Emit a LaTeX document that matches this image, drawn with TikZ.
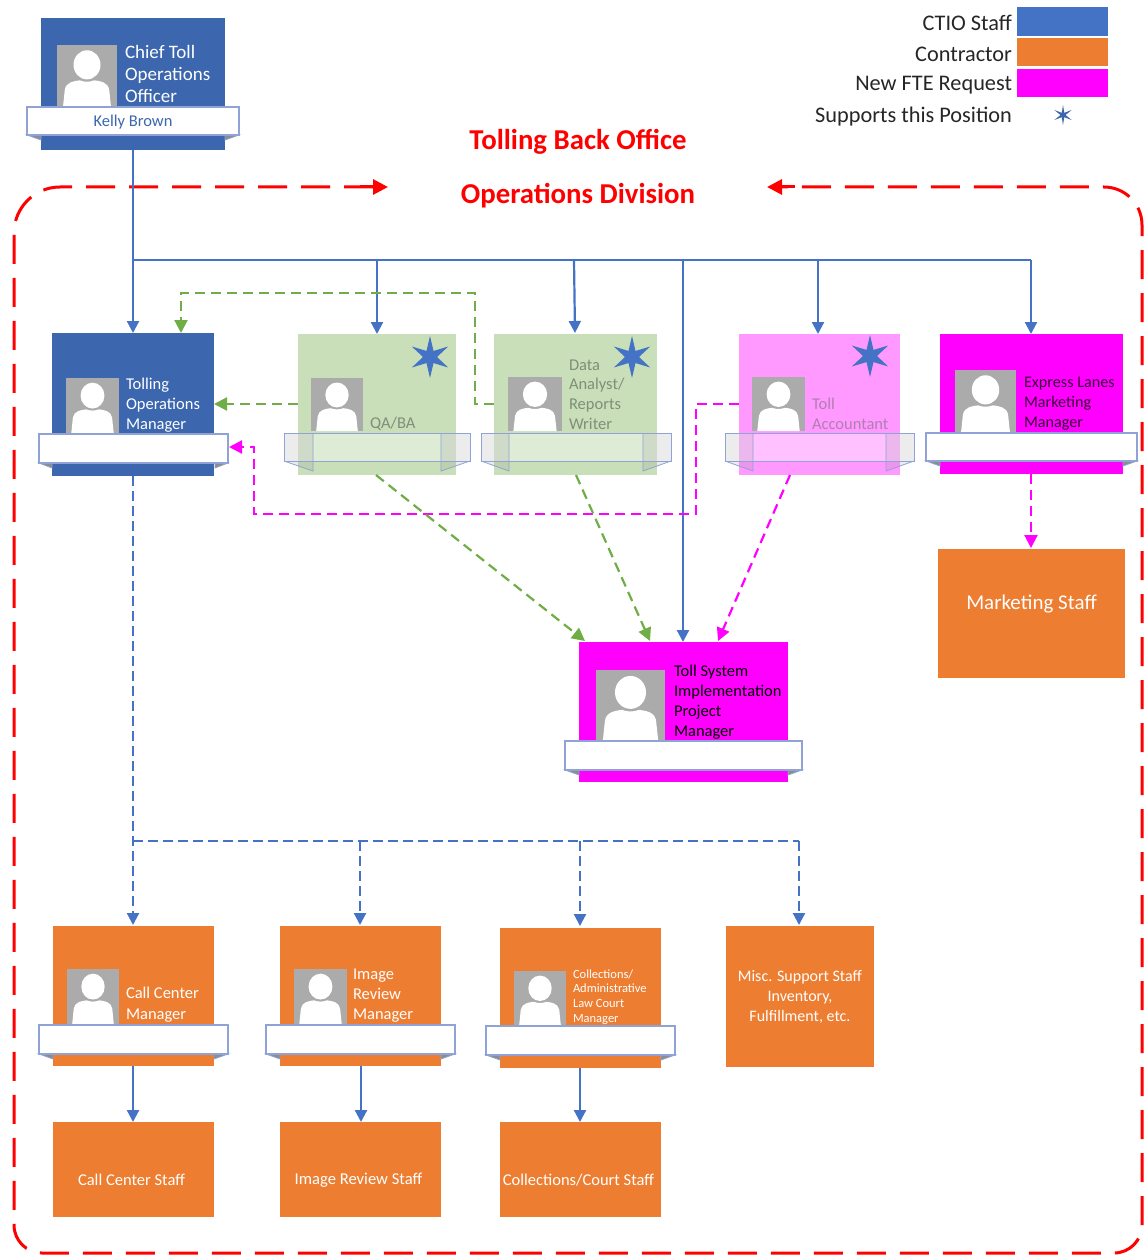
\documentclass[tikz,border=0pt]{standalone}
\usepackage{fontspec}
\setmainfont{Carlito}
\usetikzlibrary{arrows.meta,shapes.geometric,calc}
\definecolor{ctio}{HTML}{3C66AE}
\definecolor{linkblue}{HTML}{4472C4}
\definecolor{contr}{HTML}{ED7D31}
\definecolor{fte}{HTML}{FF00FF}
\definecolor{ltfte}{HTML}{FF99FF}
\definecolor{ltgreen}{HTML}{C9DFB9}
\definecolor{linkgreen}{HTML}{70AD47}
\definecolor{photo}{HTML}{ABABAB}
\definecolor{bannerline}{HTML}{8FA3D6}
\definecolor{greytext}{HTML}{7F8F78}
\definecolor{pinkgrey}{HTML}{B07FB0}
\definecolor{darkpurple}{HTML}{3A003A}
\tikzset{
  x=1pt,y=-1pt,
  box/.style={inner sep=0pt,outer sep=0pt,draw=none},
  lbl/.style 2 args={inner sep=0pt,outer sep=0pt,anchor=west,align=left,font=\fontsize{#1}{#2}\selectfont},
  ctr/.style 2 args={inner sep=0pt,outer sep=0pt,anchor=center,align=center,text=white,font=\fontsize{#1}{#2}\selectfont},
  solidlink/.style={linkblue,line width=2.2pt,-{Triangle[width=12pt,length=12pt]}},
  bluedash/.style={solidlink,dash pattern=on 10pt off 5pt},
  greendash/.style={linkgreen,line width=2.2pt,dash pattern=on 10pt off 6pt,-{Triangle[width=13pt,length=13pt]}},
  pinkdash/.style={fte,line width=2.2pt,dash pattern=on 10pt off 6pt,-{Triangle[width=13pt,length=13pt]}},
  framelink/.style={red,line width=3pt,dash pattern=on 29pt off 14pt},
  redtip/.style={red,line width=3pt,-{Triangle[width=15pt,length=15pt]}},
  starmark/.style={star,star points=6,star point ratio=3,fill=linkblue,inner sep=0pt,outer sep=0pt,minimum size=42pt},
  title/.style={inner sep=0pt,text=red,font=\fontsize{28.8}{30}\selectfont\bfseries},
}
% \rectn{name}{x0}{y0}{x1}{y1}{colour}
\newcommand{\rectn}[6]{%
  \pgfmathsetmacro{\cxx}{(#2+#4)/2}\pgfmathsetmacro{\cyy}{(#3+#5)/2}%
  \pgfmathsetmacro{\www}{#4-#2}\pgfmathsetmacro{\hhh}{#5-#3}%
  \node[box,fill=#6,minimum width=\www pt,minimum height=\hhh pt] (#1) at (\cxx,\cyy) {};}
% \portrait{name}{x0}{y0}{x1}{y1}
\newcommand{\portrait}[5]{%
  \rectn{#1}{#2}{#3}{#4}{#5}{photo}%
  \pgfmathsetmacro{\pw}{#4-#2}\pgfmathsetmacro{\ph}{#5-#3}%
  \begin{scope}[shift={(#2,#3)},x=\pw pt,y=-\ph pt]
    \fill[white] (0.5,0.32) ellipse (0.225 and 0.235);
    \fill[white] (0.10,1) -- (0.13,0.72) .. controls (0.15,0.6) and (0.28,0.58) .. (0.38,0.57)
      .. controls (0.45,0.6) and (0.55,0.6) .. (0.62,0.57)
      .. controls (0.72,0.58) and (0.85,0.6) .. (0.87,0.72) -- (0.90,1) -- cycle;
  \end{scope}}
% \banner{x0}{y0}{x1}{y1}{inner inset}{fold depth}
\newcommand{\banner}[6]{%
  \draw[bannerline,line width=.8pt,fill=black!45] (#1,#4) -- ({#1+#5},{#4+#6}) -- ({#1+#5},#4) -- cycle;
  \draw[bannerline,line width=.8pt,fill=black!45] (#3,#4) -- ({#3-#5},{#4+#6}) -- ({#3-#5},#4) -- cycle;
  \draw[bannerline,line width=1.2pt,fill=white] (#1,#2) rectangle (#3,#4);}
% see-through banner
\newcommand{\glass}[6]{%
  \fill[white,opacity=.4] (#1,#2) rectangle (#3,#4);
  \fill[gray,opacity=.15] (#1,#4) -- ({#1+#5},{#4+#6}) -- ({#1+#5},#2) -- (#1,#2) -- cycle;
  \fill[gray,opacity=.15] (#3,#4) -- ({#3-#5},{#4+#6}) -- ({#3-#5},#2) -- (#3,#2) -- cycle;
  \draw[bannerline,line width=1pt] (#1,#2) rectangle (#3,#4);
  \draw[bannerline,line width=.8pt] (#1,#4) -- ({#1+#5},{#4+#6}) -- ({#1+#5},#2);
  \draw[bannerline,line width=.8pt] (#3,#4) -- ({#3-#5},{#4+#6}) -- ({#3-#5},#2);}
\begin{document}
\begin{tikzpicture}
\useasboundingbox (0,0) rectangle (1145,1257);
\fill[white] (0,0) rectangle (1145,1257);

% frame
\coordinate (frameL) at (388,187);
\coordinate (frameR) at (767,187);
\draw[framelink] (frameL) ++(-15,0) -- (60,187) arc[start angle=90,end angle=180,x radius=46,y radius=-46]
  -- (14,1225) arc[start angle=180,end angle=270,x radius=28,y radius=-28]
  -- (1114,1253) arc[start angle=270,end angle=360,x radius=28,y radius=-28]
  -- (1142,225) arc[start angle=0,end angle=90,x radius=38,y radius=-38] -- ($(frameR)+(15,0)$);
\draw[redtip] (360,187) -- (frameL);
\draw[redtip] (795,187) -- (frameR);

% titles
\node[title] (title1) at (578,142) {Tolling Back Office};
\node[title] (title2) at (578,196) {Operations Division};

% legend
\rectn{legA}{1017}{7}{1108}{36}{linkblue}
\rectn{legB}{1017}{38}{1108}{66}{contr}
\rectn{legC}{1017}{69}{1108}{97}{fte}
\node[star,star points=6,star point ratio=4,fill=ctio,inner sep=0pt,minimum size=20pt] (legD) at (1063,115) {};
\foreach \nm/\yy/\tx in {la/23/CTIO Staff,lb/54/Contractor,lc/85.5/New FTE Request,ld/116.5/Supports this Position}
  \node[lbl={22.3}{24},anchor=east,text=black!85] (\nm) at (1012,\yy) {\tx};

% solid-colour cards
\rectn{chief}{41}{18}{225}{150}{ctio}
\rectn{tom}{52}{333}{214}{476}{ctio}
\rectn{qa}{298}{334}{456}{475}{ltgreen}
\rectn{data}{494}{334}{657}{475}{ltgreen}
\rectn{acct}{739}{334}{900}{475}{ltfte}
\rectn{expr}{940}{334}{1123}{474}{fte}
\rectn{mkt}{938}{549}{1125}{678}{contr}
\rectn{tsi}{579}{642}{788}{782}{fte}
\rectn{ccm}{53}{926}{214}{1066}{contr}
\rectn{irm}{280}{926}{441}{1066}{contr}
\rectn{col}{500}{928}{661}{1068}{contr}
\rectn{misc}{726}{926}{874}{1067}{contr}
\rectn{ccs}{53}{1122}{214}{1217}{contr}
\rectn{irs}{280}{1122}{441}{1217}{contr}
\rectn{cos}{500}{1122}{661}{1217}{contr}

% connectors
\coordinate (busTop) at (133,260);
\coordinate (busA) at (377,260);
\coordinate (busB) at (574,260);
\coordinate (busC) at (683,260);
\coordinate (busD) at (818,260);
\coordinate (busE) at (1031,260);
\draw[linkblue,line width=2.2pt] (busTop) -- (busE);
\draw[solidlink] (chief.south) -- (tom.north);
\draw[solidlink] (busA) -- (qa.north-|busA);
\draw[solidlink] (busB) -- (575,333);
\draw[solidlink] (busC) -- (tsi.north-|busC);
\draw[solidlink] (busD) -- (acct.north-|busD);
\draw[solidlink] (busE) -- (expr.north-|busE);

\coordinate (gA) at (475,404);\coordinate (gB) at (475,293);\coordinate (gC) at (181,293);\coordinate (gEnd) at (181,333);
\draw[greendash] (data.west|-gA) -- (gA) -- (gB) -- (gC) -- (gEnd);
\draw[greendash] (qa.west|-gA) -- (tom.east|-gA);
\coordinate (pA) at (696,404);\coordinate (pB) at (696,514);\coordinate (pC) at (254,514);\coordinate (pD) at (254,447);\coordinate (pEnd) at (229,447);
\draw[pinkdash] (acct.west|-pA) -- (pA) -- (pB) -- (pC) -- (pD) -- (pEnd);
\coordinate (tsiA) at (585,641);\coordinate (tsiB) at (650,641);\coordinate (tsiC) at (718,641);
\draw[greendash] (qa.south) ++(-1,0) -- (tsiA);
\draw[greendash] (576,475) -- (tsiB);
\draw[pinkdash] (790,475) -- (tsiC);
\coordinate (mA) at (1031,474);\coordinate (mB) at (1031,548);
\draw[pinkdash] (mA) -- (mB);

\coordinate (dJ) at (133,841);
\coordinate (dA) at (360,841);\coordinate (dB) at (580,841);\coordinate (dC) at (799,841);
\draw[linkblue,line width=2.2pt,dash pattern=on 10pt off 5pt] (dJ) -- (dC);
\draw[bluedash] (tom.south) -- (133,925);
\draw[bluedash] (dA) -- (360,925);
\draw[bluedash] (dB) -- (580,926);
\draw[bluedash] (dC) -- (799,925);
\coordinate (sA) at (133,1066);\coordinate (sB) at (361,1066);\coordinate (sC) at (580,1068);
\draw[solidlink] (sA) -- (ccs.north-|sA);
\draw[solidlink] (sB) -- (irs.north-|sB);
\draw[solidlink] (sC) -- (cos.north-|sC);

% portraits
\portrait{pChief}{57}{45}{117}{107}
\portrait{pTom}{66}{378}{119}{433}
\portrait{pQa}{311}{378}{363}{431}
\portrait{pData}{508}{377}{562}{431}
\portrait{pAcct}{752}{377}{805}{431}
\portrait{pExpr}{955}{370}{1016}{432}
\portrait{pTsi}{596}{670}{665}{740}
\portrait{pCcm}{67}{969}{119}{1024}
\portrait{pIrm}{294}{969}{347}{1024}
\portrait{pCol}{514}{971}{566}{1025}

% banners
\banner{27}{107}{239}{135}{14}{5}
\banner{39}{434}{228}{463}{13}{5}
\banner{926}{433}{1137}{461}{14}{5}
\banner{565}{741}{802}{770}{14}{5}
\banner{39}{1025}{228}{1054}{14}{5}
\banner{266}{1025}{455}{1054}{14}{5}
\banner{486}{1026}{675}{1055}{14}{5}
\glass{284}{433}{470}{461}{29}{10}
\glass{481}{433}{671}{461}{28}{10}
\glass{725}{433}{914}{461}{28}{10}

% stars
\node[starmark] (sQa) at (430,357) {};
\node[starmark] (sData) at (632,357) {};
\node[starmark] (sAcct) at (870,356) {};

% card text
\node[lbl={19}{22},text=white] (tChief) at (125,74) {Chief Toll\\Operations\\Officer};
\node[ctr={16.5}{18},text=ctio] (tKelly) at (133,122.5) {Kelly Brown};
\node[lbl={16.5}{20},text=white] (tTom) at (126,405) {Tolling\\Operations\\Manager};
\node[lbl={16.5}{20},text=greytext] (tQa) at (370,424) {QA/BA};
\node[lbl={16.5}{19.7},text=greytext] (tData) at (569,394.5) {Data\\Analyst/\\Reports\\Writer};
\node[lbl={16.5}{20},text=pinkgrey] (tAcct) at (812,414) {Toll\\Accountant};
\node[lbl={16.2}{20},text=darkpurple] (tExpr) at (1024,404) {Express Lanes\\Marketing\\Manager};
\node[ctr={21}{24}] (tMkt) at (1031.5,604) {Marketing Staff};
\node[lbl={16.5}{20},text=black] (tTsi) at (674,702) {Toll System\\Implementation\\Project\\Manager};
\node[lbl={16.5}{21},text=white] (tCcm) at (126,1005) {Call Center\\Manager};
\node[lbl={16.5}{20},text=white] (tIrm) at (353,996) {Image\\Review\\Manager};
\node[lbl={12.5}{14.6},text=white] (tCol) at (573,997) {Collections/\\Administrative\\Law Court\\Manager};
\node[ctr={16}{20}] (tMisc) at (800,997) {Misc. Support Staff\\Inventory,\\Fulfillment, etc.};
\node[ctr={16.5}{18}] (tCcs) at (131.5,1180) {Call Center Staff};
\node[ctr={16.6}{18}] (tIrs) at (358.5,1180) {Image Review Staff};
\node[ctr={16.5}{18}] (tCos) at (578.5,1180) {Collections/Court Staff};
\end{tikzpicture}
\end{document}
